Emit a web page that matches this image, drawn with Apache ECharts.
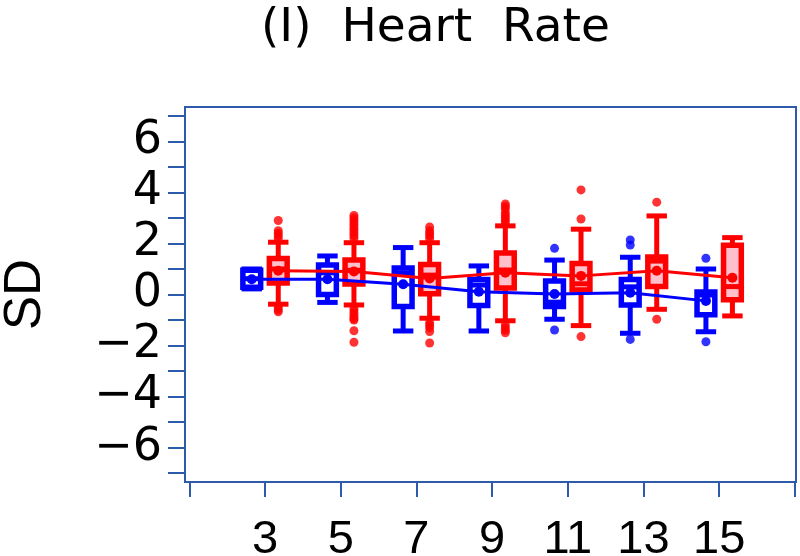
<!DOCTYPE html>
<html>
<head>
<meta charset="utf-8">
<script src="https://cdn.jsdelivr.net/npm/echarts@6/dist/echarts.min.js"></script>
<style>html,body{margin:0;padding:0;background:#fff;}#c{width:800px;height:556px;}</style>
</head>
<body>
<div id="c"></div>
<script>
// ---- data ----
const times = [3, 5, 7, 9, 11, 13, 15];
const xTickValues = [1, 3, 5, 7, 9, 11, 13, 15, 17];
const xLabelValues = [3, 5, 7, 9, 11, 13, 15];
const yTickValues = [-7, -6, -5, -4, -3, -2, -1, 0, 1, 2, 3, 4, 5, 6, 7];
const yLabelValues = [-6, -4, -2, 0, 2, 4, 6];

const blueLow    = [0.22, -0.31, -1.43, -1.43, -0.97, -1.52, -1.46];
const blueQ1     = [0.28,  0.00, -0.47, -0.43, -0.47, -0.41, -0.79];
const blueMedian = [0.62,  0.85,  0.85,  0.37, -0.30,  0.30, -0.02];
const blueQ3     = [0.95,  1.16,  1.04,  0.59,  0.53,  0.59,  0.10];
const blueHigh   = [1.00,  1.51,  1.84,  1.12,  1.35,  1.46,  1.00];
const blueMean   = [0.60,  0.60,  0.40,  0.11,  0.02,  0.07, -0.25];

const redLow     = [-0.38, -0.41, -0.93, -1.03, -1.22, -0.58, -0.84];
const redQ1      = [0.45,  0.41,  0.03,  0.25,  0.18,  0.31, -0.21];
const redMedian  = [1.00,  0.95,  0.76,  0.96,  0.42,  1.31,  0.31];
const redQ3      = [1.41,  1.35,  1.18,  1.63,  1.22,  1.47,  1.93];
const redHigh    = [2.05,  2.03,  2.03,  2.69,  2.56,  3.08,  2.23];
const redMean    = [0.93,  0.90,  0.63,  0.85,  0.73,  0.93,  0.66];

const blueOutliers = [
  [11, 1.81], [11, -1.39],
  [13, 1.94], [13, 2.14], [13, -1.76],
  [15, 1.42], [15, -1.85]
];
const redOutliers = [
  [3, 2.2], [3, 2.3], [3, 2.4], [3, 2.5], [3, 2.9], [3, -0.5], [3, -0.6], [3, -0.68],
  [5, 2.2], [5, 2.3], [5, 2.4], [5, 2.5], [5, 2.6], [5, 2.7], [5, 2.8], [5, 2.9], [5, 3.0], [5, 3.1],
  [5, -0.55], [5, -0.65], [5, -0.75], [5, -0.85], [5, -0.95], [5, -1.0], [5, -1.42], [5, -1.87],
  [7, 2.2], [7, 2.3], [7, 2.4], [7, 2.5], [7, 2.65], [7, -1.1], [7, -1.2], [7, -1.3], [7, -1.45], [7, -1.9],
  [9, 2.8], [9, 2.9], [9, 3.0], [9, 3.1], [9, 3.2], [9, 3.35], [9, 3.45], [9, 3.55],
  [9, -1.2], [9, -1.3], [9, -1.4], [9, -1.5],
  [11, 2.96], [11, 4.1], [11, -1.65],
  [13, 3.62], [13, -0.97]
];

// ---- styling ----
const BLUE = '#0000FF', RED = '#FF0000', PINK = '#FFC0CB', AXIS = '#2E5AAC';
const OFF_BLUE = -0.35, OFF_RED = 0.35;
const FONT = 'DejaVu Sans';

function boxData(off, low, q1, med, q3, high) {
  return times.map((t, i) => [t + off, low[i], q1[i], med[i], q3[i], high[i]]);
}

function makeRender(color, fill) {
  return function (params, api) {
    const x = api.value(0), low = api.value(1), q1 = api.value(2),
          med = api.value(3), q3 = api.value(4), high = api.value(5);
    const hw = 0.235, cw = 0.27;
    const tl = api.coord([x - hw, q3]);
    const br = api.coord([x + hw, q1]);
    const line = (a, b, w) => ({
      type: 'line',
      shape: { x1: a[0], y1: a[1], x2: b[0], y2: b[1] },
      style: { stroke: color, lineWidth: w, lineCap: 'butt' }
    });
    return {
      type: 'group',
      children: [
        line(api.coord([x, high]), api.coord([x, q3]), 5),
        line(api.coord([x, q1]), api.coord([x, low]), 5),
        line(api.coord([x - cw, high]), api.coord([x + cw, high]), 5),
        line(api.coord([x - cw, low]), api.coord([x + cw, low]), 5),
        {
          type: 'rect',
          shape: { x: tl[0], y: tl[1], width: br[0] - tl[0], height: br[1] - tl[1] },
          style: { fill: fill, stroke: color, lineWidth: 5.5 }
        },
        line(api.coord([x - hw, med]), api.coord([x + hw, med]), 5)
      ]
    };
  };
}

const chart = echarts.init(document.getElementById('c'), null, { renderer: 'canvas' });
const fmt = v => (v < 0 ? '\u2212' + Math.abs(v) : String(v));

chart.setOption({
  animation: false,
  backgroundColor: '#fff',
  grid: { left: 185, right: 4, top: 107, bottom: 74, outerBoundsMode: 'none', containLabel: false,
          show: true, borderColor: AXIS, borderWidth: 2, backgroundColor: 'transparent' },
  graphic: [{
    type: 'text', left: 261, top: 5,
    style: { text: '(I)  Heart  Rate', font: '47px "DejaVu Sans"', fill: '#000' }
  }],
  xAxis: {
    type: 'value', min: 0.886, max: 17.03,
    axisLine: { show: true, onZero: false, lineStyle: { color: AXIS, width: 2 } },
    axisTick: { show: true, length: 15, customValues: xTickValues, lineStyle: { color: AXIS, width: 2 } },
    axisLabel: { customValues: xLabelValues, color: '#000', fontFamily: 'Liberation Sans', fontSize: 47, margin: 35 },
    splitLine: { show: false }
  },
  yAxis: {
    type: 'value', min: -7.35, max: 7.35,
    name: 'SD', nameLocation: 'middle', nameRotate: 90, nameGap: 134,
    nameTextStyle: { color: '#000', fontFamily: 'Liberation Sans', fontSize: 51 },
    axisLine: { show: true, onZero: false, lineStyle: { color: AXIS, width: 2 } },
    axisTick: { show: true, length: 17, customValues: yTickValues, lineStyle: { color: AXIS, width: 2 } },
    axisLabel: { customValues: yLabelValues, formatter: fmt, color: '#000', fontFamily: FONT, fontSize: 46, margin: 23 },
    splitLine: { show: false }
  },
  series: [
    { type: 'custom', name: 'blueBox', renderItem: makeRender(BLUE, '#fff'),
      data: boxData(OFF_BLUE, blueLow, blueQ1, blueMedian, blueQ3, blueHigh),
      encode: { x: 0, y: [1, 2, 3, 4, 5] }, z: 2 },
    { type: 'custom', name: 'redBox', renderItem: makeRender(RED, PINK),
      data: boxData(OFF_RED, redLow, redQ1, redMedian, redQ3, redHigh),
      encode: { x: 0, y: [1, 2, 3, 4, 5] }, z: 2 },
    { type: 'scatter', name: 'blueOut', data: blueOutliers.map(p => [p[0] + OFF_BLUE, p[1]]),
      symbol: 'circle', symbolSize: 9, itemStyle: { color: BLUE }, z: 3 },
    { type: 'scatter', name: 'redOut', data: redOutliers.map(p => [p[0] + OFF_RED, p[1]]),
      symbol: 'circle', symbolSize: 9, itemStyle: { color: RED }, z: 3 },
    { type: 'line', name: 'blueMean', data: times.map((t, i) => [t + OFF_BLUE, blueMean[i]]),
      symbol: 'circle', symbolSize: 10, showSymbol: true, itemStyle: { color: BLUE },
      lineStyle: { color: BLUE, width: 3 }, z: 4 },
    { type: 'line', name: 'redMean', data: times.map((t, i) => [t + OFF_RED, redMean[i]]),
      symbol: 'circle', symbolSize: 10, showSymbol: true, itemStyle: { color: RED },
      lineStyle: { color: RED, width: 3 }, z: 4 }
  ]
});
</script>
</body>
</html>
